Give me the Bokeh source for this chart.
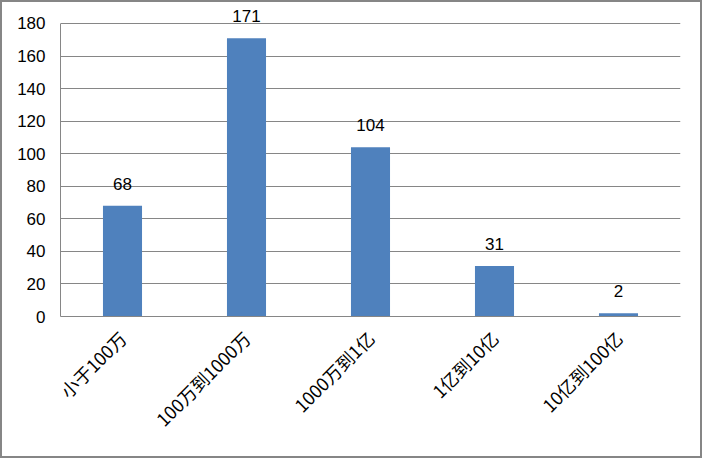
import math
from bokeh.plotting import figure
from bokeh.models import ColumnDataSource, FactorRange, Range1d, FixedTicker, LabelSet
from bokeh.core.properties import value
from bokeh.embed import file_html
from bokeh.resources import INLINE

categories = ["小于100万", "100万到1000万", "1000万到1亿", "1亿到10亿", "10亿到100亿"]
counts = [68, 171, 104, 31, 2]
y_ticks = [0, 20, 40, 60, 80, 100, 120, 140, 160, 180]

source = ColumnDataSource(data=dict(
    cat=categories,
    val=counts,
    lab=[str(v) for v in counts],
))

p = figure(
    x_range=FactorRange(*categories, range_padding=0),
    y_range=Range1d(0, 192.9),
    width=702, height=458,
    output_backend="svg", toolbar_location=None,
    min_border_left=58, min_border_right=24,
    min_border_top=0, min_border_bottom=144,
)
p.styles = {"border": "2px solid #868686"}
p.outline_line_color = None
p.background_fill_color = "white"
p.border_fill_color = "white"

p.vbar(x="cat", top="val", width=0.315, source=source,
       fill_color="#4F81BD", line_color=None)

labels = LabelSet(x="cat", y="val", text="lab", source=source,
                  text_align="center", text_baseline="middle", y_offset=22,
                  text_font=value("Liberation Sans"), text_font_size="17px",
                  text_color="black")
p.add_layout(labels)

p.xgrid.grid_line_color = None
p.ygrid.grid_line_color = "#868686"
p.ygrid.grid_line_width = 1
p.ygrid.bounds = (0, 180)
p.yaxis.ticker = FixedTicker(ticks=y_ticks)
p.yaxis.bounds = (0, 180)

for ax in (p.xaxis[0], p.yaxis[0]):
    ax.axis_line_color = "#868686"
    ax.axis_line_width = 1
    ax.major_tick_line_color = None
    ax.minor_tick_line_color = None
    ax.major_label_text_color = "black"

p.yaxis.major_label_text_font = "Liberation Sans"
p.yaxis.major_label_text_font_size = "17px"
p.yaxis.major_label_standoff = 9

p.xaxis.major_label_text_font = "Noto Sans CJK SC"
p.xaxis.major_label_text_font_size = "18px"
p.xaxis.major_label_orientation = math.pi / 4
p.xaxis.major_label_standoff = 12

open("out.html", "w").write(file_html(p, INLINE))
